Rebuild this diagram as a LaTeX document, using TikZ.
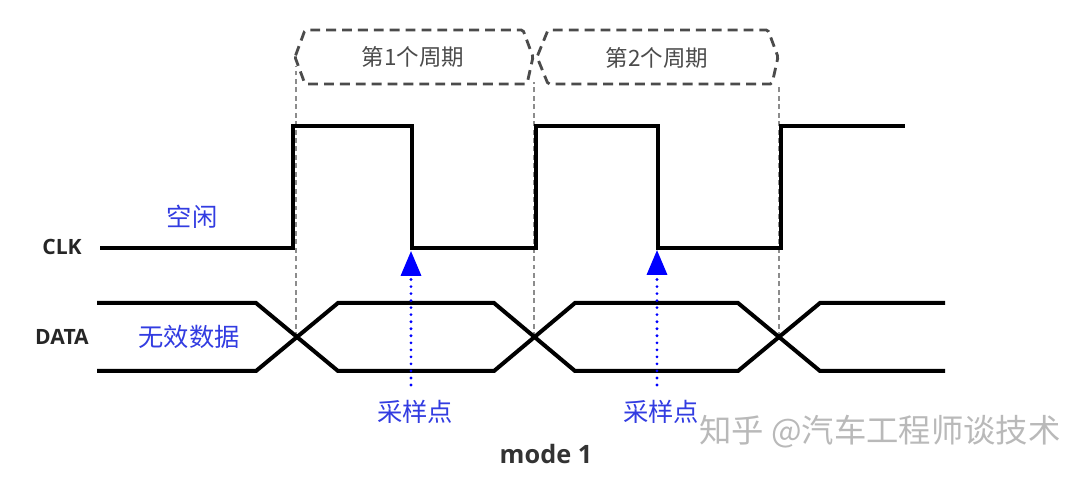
\documentclass[tikz,border=0pt]{standalone}
\usepackage{fontspec}
\setmainfont{Noto Sans CJK SC}
\setsansfont{Open Sans}
\usepackage{tikz}
\usetikzlibrary{arrows.meta}
\definecolor{sigblue}{RGB}{50,60,225}
\definecolor{pgray}{RGB}{75,75,75}
\definecolor{wmgray}{RGB}{185,185,185}

\begin{document}
\begin{tikzpicture}[
    x=0.025cm, y=-0.025cm,
    lbl/.style={font=\sffamily\bfseries\fontsize{15}{18}\selectfont, text=black!85},
    note/.style={text=sigblue, font=\fontsize{18}{22}\selectfont},
    period/.style={text=pgray, font=\fontsize{16}{20}\selectfont},
    wave/.style={line width=0.1cm},
    guide/.style={draw=black!45, line width=1.3pt, dash pattern=on 3.5pt off 2.5pt},
    pbox/.style={draw=pgray, line width=2pt, dash pattern=on 7pt off 4.3pt, rounded corners=1.2pt},
    samp/.style={blue, line width=2.2pt, line cap=round, dash pattern=on 0pt off 5pt,
                 -{Triangle[length=0.62cm, width=0.5cm]}},
]
\useasboundingbox (0,0) rectangle (1091,477);

\coordinate (x1) at (296,337);
\coordinate (x2) at (534,337);
\coordinate (x3) at (779,337);

\draw[guide] (x1) -- (296,66);
\draw[guide] (x2) -- (534,82);
\draw[guide] (x3) -- (779,84);

\draw[pbox] (295,57) -- (305,30) -- (523,30) -- (533,57) -- (527,84) -- (305,84) -- cycle;
\draw[pbox] (537,57) -- (548,30) -- (768,30) -- (778,57) -- (772,84) -- (548,84) -- cycle;
\node[period] (p1) at (413,57) {第1个周期};
\node[period] (p2) at (657,58) {第2个周期};

\node[lbl] (clk)  at (62,247) {CLK};
\node[lbl] (data) at (62,337) {DATA};

\draw[wave] (100,248) -| (293,126) -| (412,248) -| (536,126) -| (658,248) -| (781,126) -- (905,126);

\draw[wave] (97,303) -- (256,303) -- (338,371) -- (494,371) -- (575,303)
            -- (738,303) -- (820,371) -- (945,371);
\draw[wave] (97,371) -- (256,371) -- (338,303) -- (494,303) -- (575,371)
            -- (738,371) -- (820,303) -- (945,303);

\node[note] (idle)  at (192,217) {空闲};
\node[note] (inval) at (189,337) {无效数据};

\coordinate (s1) at (411,385);
\coordinate (t1) at (411,251);
\coordinate (s2) at (657,385);
\coordinate (t2) at (657,250);
\draw[samp] (s1) -- (t1);
\draw[samp] (s2) -- (t2);
\node[note] (sp1) at (415,412) {采样点};
\node[note] (sp2) at (661,412) {采样点};

\node[font=\sffamily\bfseries\fontsize{18}{22}\selectfont, text=black!80] (mode) at (546,454) {mode 1};
\node[text=wmgray, font=\fontsize{23}{28}\selectfont] (wm) at (880,432) {知乎 @汽车工程师谈技术};
\end{tikzpicture}
\end{document}
